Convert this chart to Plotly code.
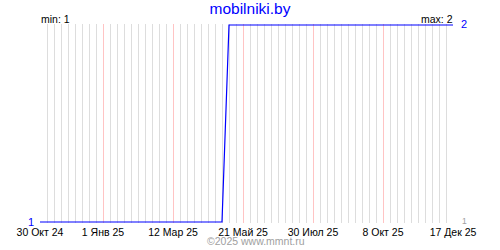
import pandas as pd
import plotly.graph_objects as go

# ---- data ----
dates = pd.date_range("2024-10-30", "2025-12-17", freq="7D")
values = [1, 1, 1, 1, 1, 1, 1, 1, 1, 1,
          1, 1, 1, 1, 1, 1, 1, 1, 1, 1,
          1, 1, 1, 1, 1, 1, 1,
          2, 2, 2, 2, 2, 2, 2, 2, 2, 2,
          2, 2, 2, 2, 2, 2, 2, 2, 2, 2,
          2, 2, 2, 2, 2, 2, 2, 2, 2, 2,
          2, 2, 2]
tick_dates = ["2024-10-30", "2025-01-01", "2025-03-12", "2025-05-21",
              "2025-07-30", "2025-10-08", "2025-12-17"]
tick_labels = ["30 Окт 24", "1 Янв 25", "12 Мар 25", "21 Май 25",
               "30 Июл 25", "8 Окт 25", "17 Дек 25"]
title_text = "mobilniki.by"
min_val = min(values)
max_val = max(values)

FONT = "Liberation Sans"

fig = go.Figure()
fig.add_trace(go.Scatter(
    x=dates[:len(values)], y=values, mode="lines",
    line=dict(color="#0000ff", width=1.2),
    hoverinfo="skip", showlegend=False,
))

fig.update_layout(
    width=500, height=250,
    margin=dict(l=40, r=47, t=24, b=24),
    paper_bgcolor="white", plot_bgcolor="white",
    font=dict(family=FONT, size=10.5, color="black"),
    title=dict(text=title_text, x=0.5, xref="container", xanchor="center",
               y=1 - 8.5 / 250, yref="container", yanchor="middle",
               font=dict(family=FONT, size=15.5, color="#0000ff")),
    xaxis=dict(
        type="date",
        range=[tick_dates[0], tick_dates[-1]],
        tickmode="array", tickvals=tick_dates, ticktext=tick_labels,
        showgrid=True, gridcolor="#ffc4c4", gridwidth=1,
        ticks="", showline=False, zeroline=False,
        ticklabelstandoff=1,
        tickfont=dict(family=FONT, size=10.5, color="black"),
        minor=dict(tickmode="linear", tick0="2024-10-30", dtick=7 * 86400000,
                   showgrid=True, gridcolor="#dddddd", gridwidth=1, ticks=""),
        fixedrange=True,
    ),
    yaxis=dict(
        range=[min_val - 0.005, max_val + 0.005],
        tickmode="array", tickvals=[min_val], ticktext=[str(min_val)],
        showgrid=False, zeroline=False, showline=False, ticks="",
        ticklabelstandoff=5,
        tickfont=dict(family=FONT, size=11, color="#0000ff"),
        fixedrange=True,
    ),
    annotations=[
        dict(text=f"min: {min_val}", xref="paper", x=0, xanchor="left", xshift=-1,
             yref="y", y=max_val, yanchor="middle", yshift=5.5, showarrow=False,
             font=dict(family=FONT, size=10.5, color="black")),
        dict(text=f"max: {max_val}", xref="paper", x=1, xanchor="right", xshift=2,
             yref="y", y=max_val, yanchor="middle", yshift=5.5, showarrow=False,
             font=dict(family=FONT, size=10.5, color="black")),
        dict(text=str(max_val), xref="paper", x=1, xanchor="left", xshift=6,
             yref="y", y=max_val, yanchor="middle", yshift=1, showarrow=False,
             font=dict(family=FONT, size=11, color="#0000ff")),
        dict(text=str(min_val), xref="paper", x=1, xanchor="left", xshift=7,
             yref="y", y=min_val, yanchor="middle", yshift=1.5, showarrow=False,
             font=dict(family=FONT, size=8.5, color="#a0a0a0")),
        dict(text="©2025 www.mmnt.ru", xref="paper", x=(256 - 40) / 413,
             xanchor="center", yref="paper", y=0, yanchor="middle", yshift=-18,
             showarrow=False, font=dict(family=FONT, size=10.5, color="#a0a0a0")),
    ],
)

fig.write_html("out.html", config={"displayModeBar": False})
